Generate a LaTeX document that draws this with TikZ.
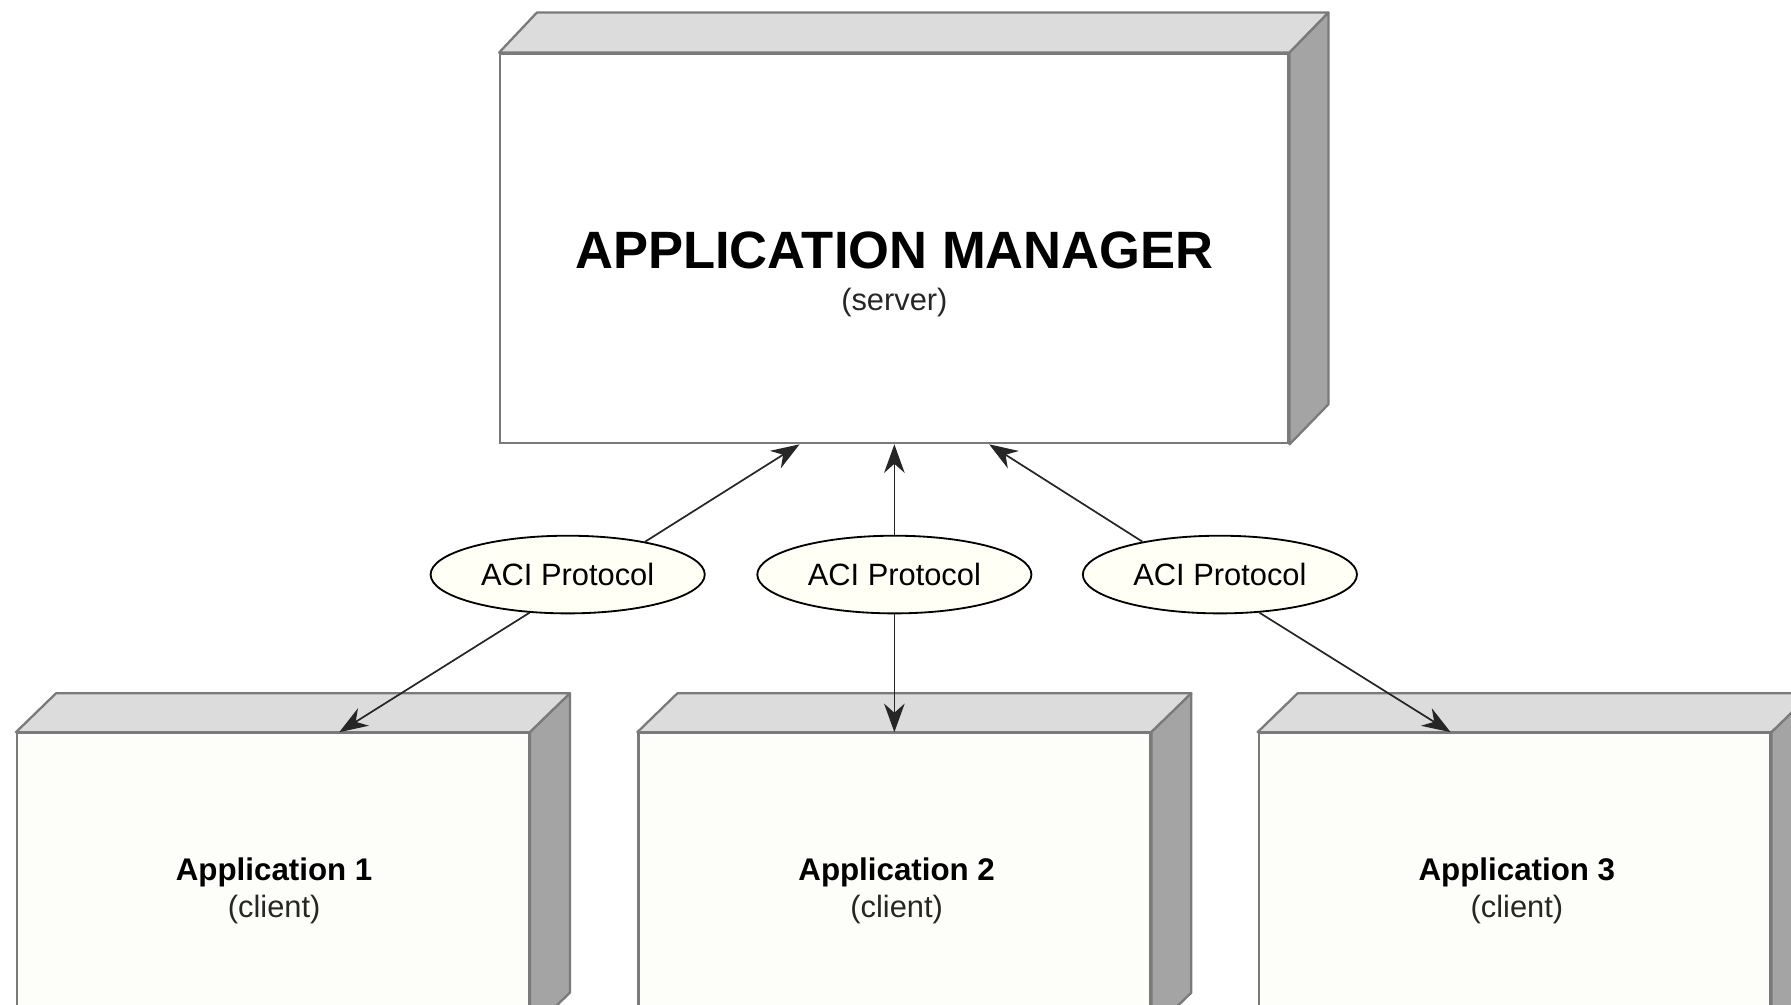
\documentclass[tikz,border=0pt]{standalone}
\usepackage{fontspec}
\setmainfont{Liberation Sans}
\usetikzlibrary{shapes.geometric,arrows.meta,calc}
\definecolor{topc}{HTML}{DCDCDC}
\definecolor{sidec}{HTML}{A4A4A4}
\definecolor{edgec}{HTML}{7A7A7A}
\definecolor{cfront}{HTML}{FDFDF9}
\definecolor{ellc}{HTML}{FFFFF5}
\begin{document}
\begin{tikzpicture}[x=0.5pt,y=-0.5pt,
  face/.style={draw=edgec, line width=1pt, rectangle, inner sep=0pt},
  topface/.style={fill=topc, draw=edgec, line width=1pt, line join=round},
  sideface/.style={fill=sidec, draw=edgec, line width=1pt, line join=round},
  proto/.style={ellipse, draw=black, line width=0.8pt, fill=ellc, minimum width=120pt, minimum height=34pt, inner sep=0pt, font=\fontsize{13.5}{16}\selectfont},
  link/.style={draw=black!85, line width=0.75pt, -{Stealth[length=12.5pt,width=9pt,inset=4pt]}},
  bigtitle/.style={anchor=base, inner sep=0pt, font=\fontsize{23}{27}\selectfont\bfseries},
  apptitle/.style={anchor=base, inner sep=0pt, font=\fontsize{13.7}{16}\selectfont\bfseries},
  subtitle/.style={anchor=base, inner sep=0pt, font=\fontsize{13.5}{16}\selectfont, text=black!85}
]
\useasboundingbox (0,0) rectangle (1568,879);
\clip (0,0) rectangle (1568,879);
\fill[white] (0,0) rectangle (1568,879);

% server box
\node[face, fill=white, minimum width=345pt, minimum height=170.5pt] (mgr) at (783,217.5) {};
\draw[topface] (mgr.north west) -- ++(33,-35) -- ($(mgr.north east)+(34,-35)$) -- (mgr.north east) -- cycle;
\draw[sideface] (mgr.north east) -- ++(34,-35) -- ($(mgr.south east)+(34,-35)$) -- (mgr.south east) -- cycle;
\node[bigtitle] (mgrt) at (783,235) {APPLICATION MANAGER};
\node[subtitle] (mgrs) at (783,272) {(server)};

% client boxes
\foreach \n/\cx in {1/239,2/783,3/1326}{
  \node[face, fill=cfront, minimum width=224pt, minimum height=130pt] (app\n) at (\cx,772) {};
  \draw[topface] (app\n.north west) -- ++(35,-34) -- ($(app\n.north east)+(35,-34)$) -- (app\n.north east) -- cycle;
  \draw[sideface] (app\n.north east) -- ++(35,-34) -- ($(app\n.south east)+(35,-34)$) -- (app\n.south east) -- cycle;
}
\node[apptitle] (a1t) at (240,771) {Application 1};
\node[subtitle] (a1s) at (240,803) {(client)};
\node[apptitle] (a2t) at (785,771) {Application 2};
\node[subtitle] (a2s) at (785,803) {(client)};
\node[apptitle] (a3t) at (1328,771) {Application 3};
\node[subtitle] (a3s) at (1328,803) {(client)};

% protocol ellipses
\node[proto] (p1) at (497,503) {ACI Protocol};
\node[proto] (p2) at (783,503) {ACI Protocol};
\node[proto] (p3) at (1068,503) {ACI Protocol};

% connectors
\draw[link] (p1.23) -- ([xshift=-41.5pt]mgr.south);
\draw[link] (p2.north) -- (mgr.south);
\draw[link] (p3.157) -- ([xshift=41.5pt]mgr.south);
\draw[link] (p1.225) -- ([xshift=29pt]app1.north);
\draw[link] (p2.south) -- (app2.north);
\draw[link] (p3.316) -- ([xshift=-28pt]app3.north);
\end{tikzpicture}
\end{document}
